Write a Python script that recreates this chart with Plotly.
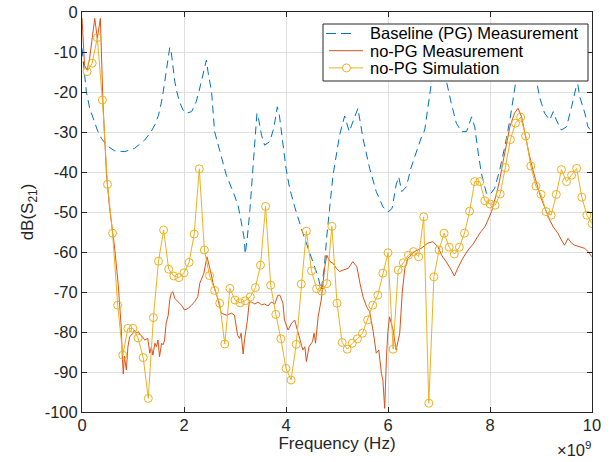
import plotly.graph_objects as go

# ---------------- data (frequencies in GHz, values in dB) ----------------
base_f = [0.0, 0.04, 0.086, 0.15, 0.216, 0.3, 0.38, 0.5, 0.64, 0.84, 1.03, 1.23, 1.35, 1.43,
          1.5, 1.56, 1.61, 1.65, 1.69, 1.72, 1.75, 1.78, 1.82, 1.87, 1.91, 1.98, 2.05, 2.15,
          2.24, 2.3, 2.34, 2.38, 2.4, 2.44, 2.47, 2.54, 2.6, 2.7, 2.83, 2.96, 3.06, 3.12, 3.18,
          3.2, 3.24, 3.29, 3.35, 3.4, 3.43, 3.46, 3.52, 3.58, 3.68, 3.76, 3.83, 3.87, 3.94, 4.0,
          4.07, 4.17, 4.33, 4.5, 4.63, 4.69, 4.75, 4.8, 4.85, 4.92, 5.05, 5.15, 5.24, 5.31, 5.41,
          5.51, 5.64, 5.77, 5.9, 6.0, 6.08, 6.16, 6.21, 6.27, 6.36, 6.45, 6.55, 6.65, 6.72, 6.8,
          6.85, 6.92, 7.0, 7.08, 7.14, 7.24, 7.34, 7.44, 7.54, 7.64, 7.7, 7.77, 7.83, 7.93, 7.99,
          8.09, 8.19, 8.29, 8.39, 8.48, 8.55, 8.62, 8.7, 8.8, 8.88, 8.91, 8.97, 9.07, 9.17, 9.24,
          9.3, 9.4, 9.5, 9.6, 9.69, 9.72, 9.76, 9.86, 9.92, 10.0]
base_db = [-9.1, -14.0, -20.0, -24.0, -26.6, -29.5, -31.6, -33.5, -34.7, -34.9, -34.1, -32.0, -30.0, -28.2,
           -25.8, -22.4, -18.5, -14.9, -11.0, -8.9, -10.0, -13.5, -17.4, -20.5, -22.4, -24.5, -25.3, -24.9,
           -22.4, -19.5, -17.4, -14.8, -14.5, -12.0, -14.9, -19.9, -29.9, -34.9, -40.8, -44.9, -48.3, -52.3, -56.6,
           -60.5, -56.6, -49.9, -39.9, -29.9, -25.3, -26.6, -30.8, -33.3, -32.4, -29.1, -23.7, -25.8, -33.3, -39.1,
           -44.0, -48.7, -55.3, -61.2, -66.2, -69.5, -64.0, -56.0, -50.0, -41.0, -30.8, -26.0, -29.9, -27.4, -24.1,
           -31.6, -39.1, -44.9, -48.7, -50.0, -49.1, -43.2, -41.2, -44.9, -43.7, -39.0, -35.0, -31.5, -29.5, -23.0,
           -17.8, -8.0, -3.0, -9.0, -17.0, -22.8, -27.8, -29.9, -29.9, -26.2, -28.7, -35.3, -40.3, -45.3, -45.8,
           -44.1, -39.5, -33.7, -27.0, -19.5, -14.0, -8.0, -5.0, -9.0, -15.0, -17.0, -21.2, -25.3, -27.0, -24.9,
           -27.0, -29.5, -28.7, -23.7, -18.7, -18.0, -21.2, -25.3, -28.7, -30.0]

nopg_f = [0.0, 0.05, 0.1, 0.15, 0.2, 0.25, 0.3, 0.36, 0.41, 0.48, 0.54, 0.61, 0.64, 0.71, 0.77, 0.79,
          0.81, 0.83, 0.85, 0.87, 0.9, 0.935, 1.0, 1.03, 1.07, 1.1, 1.16, 1.23, 1.29, 1.33, 1.36, 1.39,
          1.43, 1.46, 1.49, 1.52, 1.56, 1.59, 1.62, 1.65, 1.69, 1.72, 1.75, 1.78, 1.82, 1.88, 1.95, 2.01,
          2.08, 2.15, 2.21, 2.27, 2.31, 2.39, 2.45, 2.5, 2.57, 2.67, 2.73, 2.83, 2.93, 2.99, 3.05, 3.09,
          3.12, 3.16, 3.19, 3.24, 3.28, 3.32, 3.39, 3.45, 3.52, 3.58, 3.65, 3.71, 3.78, 3.84, 3.88, 3.94,
          3.97, 4.04, 4.11, 4.17, 4.24, 4.3, 4.33, 4.37, 4.4, 4.45, 4.52, 4.55, 4.58, 4.63, 4.69, 4.76,
          4.8, 4.86, 4.92, 4.99, 5.05, 5.12, 5.22, 5.31, 5.39, 5.45, 5.51, 5.58, 5.64, 5.71, 5.77, 5.82,
          5.87, 5.9, 5.935, 5.97, 6.0, 6.03, 6.1, 6.16, 6.23, 6.28, 6.33, 6.39, 6.52, 6.65, 6.78, 6.88,
          6.98, 7.05, 7.14, 7.24, 7.3, 7.37, 7.47, 7.57, 7.67, 7.8, 7.9, 7.96, 8.03, 8.13, 8.19, 8.25,
          8.32, 8.39, 8.48, 8.55, 8.62, 8.68, 8.75, 8.84, 8.91, 8.97, 9.04, 9.11, 9.17, 9.24, 9.33, 9.4,
          9.46, 9.53, 9.6, 9.66, 9.76, 9.86, 9.92, 10.0]
nopg_db = [-1.5, -13.4, -14.5, -11.6, -6.5, -1.6, -6.6, -1.6, -22.4, -40.6, -48.9, -55.6, -59.0, -68.1, -79.0, -86.0,
           -90.5, -86.0, -88.0, -89.5, -83.7, -81.2, -80.3, -79.5, -80.3, -79.9, -80.8, -82.0, -81.6, -85.3, -83.7, -85.8,
           -82.8, -83.7, -82.0, -86.2, -82.8, -83.2, -82.0, -77.8, -75.8, -72.0, -70.3, -69.9, -71.6, -72.4, -73.3, -74.5,
           -74.1, -73.3, -72.4, -71.2, -67.8, -65.3, -61.2, -63.7, -67.8, -72.0, -75.3, -75.8, -75.3, -75.8, -80.8, -81.6,
           -80.3, -85.5, -81.6, -77.4, -72.5, -72.5, -73.0, -72.5, -73.2, -73.0, -73.5, -72.5, -73.0, -70.8, -70.8, -72.8,
           -77.0, -79.5, -77.8, -77.0, -80.3, -83.7, -84.5, -83.7, -87.4, -83.7, -82.4, -80.3, -82.8, -76.2, -72.0, -63.7,
           -60.8, -62.4, -62.8, -64.1, -64.9, -64.5, -64.1, -62.4, -63.7, -67.8, -71.2, -73.7, -74.9, -79.9, -85.3, -84.5,
           -90.3, -92.0, -99.1, -86.2, -79.5, -76.2, -79.5, -84.5, -80.3, -70.0, -64.1, -61.6, -59.9, -59.1, -57.8, -57.4,
           -58.7, -60.8, -62.4, -64.5, -66.0, -64.0, -61.5, -59.5, -58.0, -55.3, -53.7, -52.0, -49.9, -45.3, -42.0, -37.8,
           -32.8, -28.7, -25.3, -24.1, -26.2, -30.3, -34.5, -39.5, -42.8, -45.3, -47.8, -50.3, -52.0, -53.7, -55.3, -57.0,
           -58.3, -56.6, -57.8, -58.3, -58.7, -59.1, -59.9, -61.2]

sim_f = [round(0.1 * k, 1) for k in range(1, 101)]  # simulation grid: 0.1 ... 10.0 GHz
sim_db = [-14.9, -12.8, -6.4, -22.0, -43.1, -55.3, -73.3, -85.8, -79.1, -79.1,
          -81.5, -86.4, -96.6, -76.4, -62.3, -54.5, -64.3, -66.0, -66.4, -65.2,
          -62.6, -55.5, -39.2, -59.5, -65.9, -69.6, -72.8, -83.0, -69.1, -72.0,
          -72.7, -72.2, -71.2, -68.9, -63.3, -48.6, -68.3, -75.6, -81.7, -89.1,
          -92.0, -83.1, -68.0, -54.8, -64.7, -69.2, -69.8, -67.9, -53.6, -72.8,
          -82.6, -84.3, -82.8, -81.7, -80.3, -77.0, -73.3, -70.8, -65.3, -60.2,
          -84.3, -64.5, -62.7, -60.8, -59.9, -61.2, -51.2, -97.8, -66.2, -59.5,
          -55.3, -58.8, -60.5, -58.8, -55.3, -49.8, -42.4, -42.4, -47.2, -48.0,
          -48.3, -45.5, -38.9, -31.9, -27.8, -26.3, -31.0, -38.5, -43.5, -45.6,
          -49.9, -50.8, -45.6, -39.4, -42.4, -40.8, -39.1, -46.3, -50.8, -52.9]

series_names = ["Baseline (PG) Measurement", "no-PG Measurement", "no-PG Simulation"]
series_colors = ["#0072BD", "#D95319", "#EDB120"]
x_tick_labels = ["0", "2", "4", "6", "8", "10"]
y_tick_labels = ["0", "-10", "-20", "-30", "-40", "-50", "-60", "-70", "-80", "-90", "-100"]

GHZ = 1e9
FONT = "Liberation Sans, Arial, Helvetica, sans-serif"
AX = "#262626"
GRID = "#dfdfdf"
W, H = 611, 462
ML, MR, MT, MB = 82, 19, 12, 50
PW, PH = W - ML - MR, H - MT - MB
BLUE_DASH = "8px,5px"


def px_x(px):
    return (px - ML) / PW


def px_y(py):
    return 1 - (py - MT) / PH


fig = go.Figure()
fig.add_trace(go.Scatter(
    x=[f * GHZ for f in base_f], y=base_db, mode="lines", name=series_names[0],
    line=dict(color=series_colors[0], width=1, dash=BLUE_DASH)))
fig.add_trace(go.Scatter(
    x=[f * GHZ for f in nopg_f], y=nopg_db, mode="lines", name=series_names[1],
    line=dict(color=series_colors[1], width=1)))
fig.add_trace(go.Scatter(
    x=[f * GHZ for f in sim_f], y=sim_db, mode="lines+markers", name=series_names[2],
    line=dict(color=series_colors[2], width=1),
    marker=dict(symbol="circle-open", size=8, color=series_colors[2],
                line=dict(width=1, color=series_colors[2]))))

x_vals = [float(t) * GHZ for t in x_tick_labels]
y_vals = [float(t) for t in y_tick_labels]

fig.update_layout(
    width=W, height=H,
    margin=dict(l=ML, r=MR, t=MT, b=MB, autoexpand=False),
    paper_bgcolor="white", plot_bgcolor="white",
    font=dict(family=FONT, size=16, color=AX),
    showlegend=False,
    xaxis=dict(range=[0, 10 * GHZ], tickmode="array", tickvals=x_vals, ticktext=x_tick_labels,
               ticks="inside", ticklen=5, tickcolor=AX, showline=True, linecolor=AX, linewidth=1,
               mirror="ticks", showgrid=True, gridcolor=GRID, gridwidth=1, zeroline=False,
               automargin=False, ticklabelstandoff=-2,
               tickfont=dict(size=16.5, color=AX),
               title=dict(text="Frequency (Hz)", standoff=2, font=dict(size=17, color=AX))),
    yaxis=dict(range=[-100, 0], tickmode="array", tickvals=y_vals, ticktext=y_tick_labels,
               ticks="inside", ticklen=5, tickcolor=AX, showline=True, linecolor=AX, linewidth=1,
               mirror="ticks", showgrid=True, gridcolor=GRID, gridwidth=1, zeroline=False,
               automargin=False,
               tickfont=dict(size=16.5, color=AX),
               title=dict(text="dB(S<sub>21</sub>)", standoff=6, font=dict(size=17, color=AX))),
)

# x-axis exponent label
fig.add_annotation(text="\u00d710<sup>9</sup>", xref="paper", yref="paper", x=px_x(593), y=px_y(449),
                   xanchor="right", yanchor="middle", showarrow=False,
                   font=dict(family=FONT, size=16.5, color=AX))

# ---------------- legend box (drawn to match MATLAB's compact legend) ----------------
shapes = [dict(type="rect", xref="paper", yref="paper", x0=px_x(323), x1=px_x(588),
               y0=px_y(81), y1=px_y(24), fillcolor="white", line=dict(color=AX, width=1),
               layer="above")]
row_y = [33.5, 50.7, 67.9]
shapes.append(dict(type="line", xref="paper", yref="paper", x0=px_x(326), x1=px_x(352),
                   y0=px_y(row_y[0]), y1=px_y(row_y[0]), layer="above",
                   line=dict(color=series_colors[0], width=1, dash="10px,5px")))
for i in (1, 2):
    shapes.append(dict(type="line", xref="paper", yref="paper", x0=px_x(329), x1=px_x(363),
                       y0=px_y(row_y[i]), y1=px_y(row_y[i]), layer="above",
                       line=dict(color=series_colors[i], width=1)))
shapes.append(dict(type="circle", xref="paper", yref="paper", x0=px_x(342.5), x1=px_x(350.5),
                   y0=px_y(row_y[2] + 4), y1=px_y(row_y[2] - 4), layer="above",
                   fillcolor="white", line=dict(color=series_colors[2], width=1)))
fig.update_layout(shapes=shapes)
for i, name in enumerate(series_names):
    fig.add_annotation(text=name, xref="paper", yref="paper", x=px_x(368), y=px_y(row_y[i]),
                       xanchor="left", yanchor="middle", showarrow=False,
                       font=dict(family=FONT, size=16.5, color="#000000"))

# remove the default 8px page margin so the figure sits at the window's top-left corner
fig.write_html("out.html", config={"displayModeBar": False},
               post_script="document.body.style.margin='0';")
